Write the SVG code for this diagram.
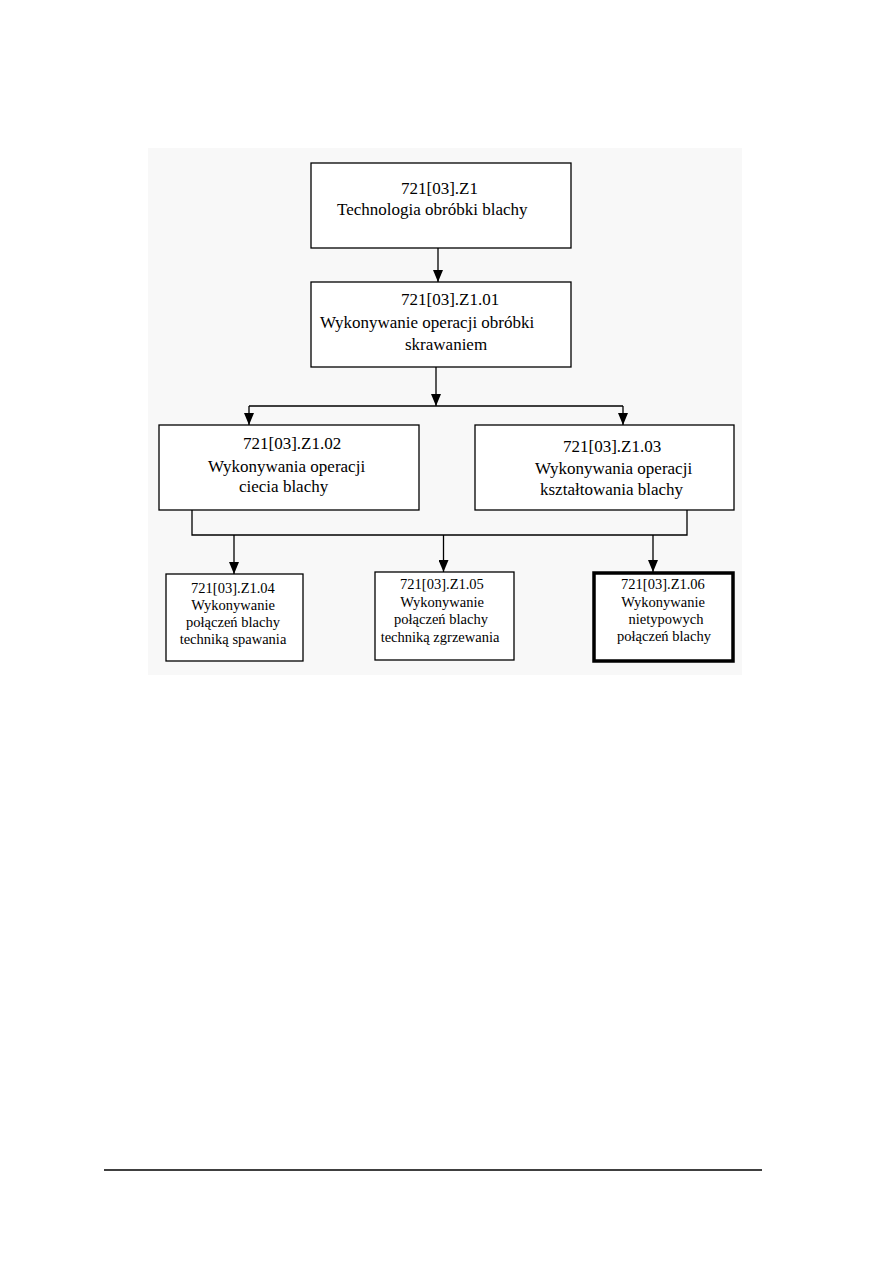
<svg xmlns="http://www.w3.org/2000/svg" width="893" height="1263" viewBox="0 0 893 1263">
<defs>
<style>
.box{fill:#ffffff;stroke:#000000;stroke-width:1.3}
.thick{fill:#ffffff;stroke:#000000;stroke-width:3.5}
.big{font-family:"Liberation Serif","Times New Roman",serif;font-size:17px;fill:#000000}
.small{font-family:"Liberation Serif","Times New Roman",serif;font-size:14.5px;fill:#000000;text-anchor:middle}
.ln{fill:none;stroke:#000000;stroke-width:1.3}
</style>
<marker id="arr" viewBox="0 0 12 10" refX="12" refY="5" markerWidth="12" markerHeight="10" markerUnits="userSpaceOnUse" orient="auto">
<path d="M0,0 L12,5 L0,10 Z" fill="#000000"/>
</marker>
</defs>
<rect x="0" y="0" width="893" height="1263" fill="#ffffff"/>
<rect x="148" y="148" width="594" height="527" fill="#f8f8f8"/>

<g id="connectors">
<line class="ln" x1="438" y1="248" x2="438" y2="282" marker-end="url(#arr)"/>
<line class="ln" x1="436" y1="367" x2="436" y2="406" marker-end="url(#arr)"/>
<polyline class="ln" points="249,406 623,406"/>
<line class="ln" x1="249" y1="406" x2="249" y2="425" marker-end="url(#arr)"/>
<line class="ln" x1="623" y1="406" x2="623" y2="425" marker-end="url(#arr)"/>
<polyline class="ln" points="192,510 192,535 687,535 687,510"/>
<line class="ln" x1="234" y1="535" x2="234" y2="574" marker-end="url(#arr)"/>
<line class="ln" x1="443.5" y1="535" x2="443.5" y2="572" marker-end="url(#arr)"/>
<line class="ln" x1="653" y1="535" x2="653" y2="572" marker-end="url(#arr)"/>
</g>

<g id="node-z1">
<rect class="box" x="311" y="163" width="260" height="85"/>
<text class="big" x="401" y="194">721[03].Z1</text>
<text class="big" x="337" y="215">Technologia obróbki blachy</text>
</g>

<g id="node-z101">
<rect class="box" x="311" y="282" width="260" height="85"/>
<text class="big" x="401" y="305">721[03].Z1.01</text>
<text class="big" x="320" y="328">Wykonywanie operacji obróbki</text>
<text class="big" x="405" y="350">skrawaniem</text>
</g>

<g id="node-z102">
<rect class="box" x="159" y="425" width="260" height="85"/>
<text class="big" x="243" y="449">721[03].Z1.02</text>
<text class="big" x="208" y="472">Wykonywania operacji</text>
<text class="big" x="239" y="492">ciecia blachy</text>
</g>

<g id="node-z103">
<rect class="box" x="475" y="425" width="259" height="85"/>
<text class="big" x="563" y="452">721[03].Z1.03</text>
<text class="big" x="535" y="474">Wykonywania operacji</text>
<text class="big" x="540" y="495">kształtowania blachy</text>
</g>

<g id="node-z104">
<rect class="box" x="166" y="574" width="137" height="87"/>
<text class="small" x="233" y="593">721[03].Z1.04</text>
<text class="small" x="233" y="610">Wykonywanie</text>
<text class="small" x="233" y="627">połączeń blachy</text>
<text class="small" x="233" y="644">techniką spawania</text>
</g>

<g id="node-z105">
<rect class="box" x="375" y="572" width="139" height="88"/>
<text class="small" x="442" y="589">721[03].Z1.05</text>
<text class="small" x="442" y="607">Wykonywanie</text>
<text class="small" x="441" y="624">połączeń blachy</text>
<text class="small" x="440" y="642">techniką zgrzewania</text>
</g>

<g id="node-z106">
<rect class="thick" x="594" y="573" width="139" height="88"/>
<text class="small" x="663" y="589">721[03].Z1.06</text>
<text class="small" x="663" y="607">Wykonywanie</text>
<text class="small" x="666" y="624">nietypowych</text>
<text class="small" x="664" y="641">połączeń blachy</text>
</g>

<line x1="104" y1="1170" x2="762" y2="1170" stroke="#000000" stroke-width="1.3"/>
</svg>
